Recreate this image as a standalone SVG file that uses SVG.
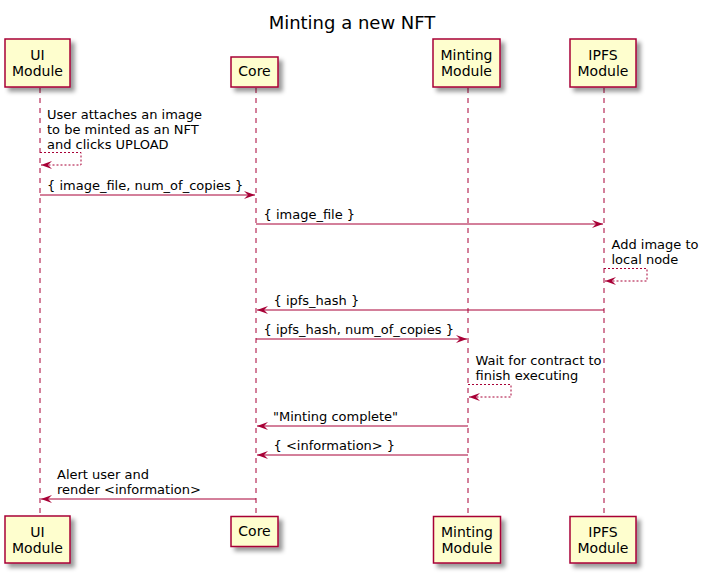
<svg xmlns="http://www.w3.org/2000/svg" width="703" height="576" viewBox="0 0 703 576">
<defs>
<filter id="sh" x="-1" y="-1" width="300%" height="300%">
<feGaussianBlur result="blur" stdDeviation="2"/>
<feColorMatrix type="matrix" in="blur" result="cm" values="0 0 0 0 0 0 0 0 0 0 0 0 0 0 0 0 0 0 0.4 0"/>
<feOffset result="off" dx="4" dy="4" in="cm"/>
<feBlend in="SourceGraphic" in2="off" mode="normal"/>
</filter>
<marker id="ah" viewBox="0 0 11 8" refX="11" refY="4" markerWidth="11" markerHeight="8" markerUnits="userSpaceOnUse" orient="auto">
<polygon points="0,0 11,4 0,8 4,4" fill="#A80036"/>
</marker>
</defs>
<style>
.box{fill:#FEFECE;stroke:#A80036;stroke-width:1.5}
.life{stroke:#A80036;stroke-width:1;stroke-dasharray:5,5;fill:none}
.msg{stroke:#A80036;stroke-width:1;fill:none}
.ret{stroke:#A80036;stroke-width:1;fill:none;stroke-dasharray:2,2}
.pt{font-family:"DejaVu Sans",sans-serif;font-size:14px;fill:#000000;text-anchor:middle}
.mt{font-family:"DejaVu Sans",sans-serif;font-size:13px;fill:#000000}
.title{font-family:"DejaVu Sans",sans-serif;font-size:18px;fill:#000000;text-anchor:middle}
</style>
<rect width="703" height="576" fill="#FFFFFF"/>
<text class="title" x="352" y="29">Minting a new NFT</text>
<g id="lifelines">
<line class="life" x1="40" y1="88" x2="40" y2="516"/>
<line class="life" x1="256" y1="88" x2="256" y2="516"/>
<line class="life" x1="468" y1="88" x2="468" y2="516"/>
<line class="life" x1="604" y1="88" x2="604" y2="516"/>
</g>
<g id="ui">
<rect class="box" x="5" y="39" width="65" height="48" filter="url(#sh)"/>
<text class="pt" x="37.5" y="60">UI</text>
<text class="pt" x="37.5" y="76">Module</text>
<rect class="box" x="5" y="516" width="65" height="47" filter="url(#sh)"/>
<text class="pt" x="37.5" y="537">UI</text>
<text class="pt" x="37.5" y="553">Module</text>
</g>
<g id="core">
<rect class="box" x="231" y="57" width="47" height="30" filter="url(#sh)"/>
<text class="pt" x="254.5" y="76">Core</text>
<rect class="box" x="231" y="516.5" width="47" height="30" filter="url(#sh)"/>
<text class="pt" x="254.5" y="536">Core</text>
</g>
<g id="minting">
<rect class="box" x="433" y="39" width="67" height="48" filter="url(#sh)"/>
<text class="pt" x="466.5" y="60">Minting</text>
<text class="pt" x="466.5" y="76">Module</text>
<rect class="box" x="433.5" y="516.5" width="67" height="46.5" filter="url(#sh)"/>
<text class="pt" x="467" y="537">Minting</text>
<text class="pt" x="467" y="553">Module</text>
</g>
<g id="ipfs">
<rect class="box" x="570" y="39" width="66" height="48" filter="url(#sh)"/>
<text class="pt" x="603" y="60">IPFS</text>
<text class="pt" x="603" y="76">Module</text>
<rect class="box" x="570" y="516.5" width="66" height="46.5" filter="url(#sh)"/>
<text class="pt" x="603" y="537">IPFS</text>
<text class="pt" x="603" y="553">Module</text>
</g>
<g id="connectors">
<polyline class="ret" points="40,152.5 81,152.5 81,165 41,165" marker-end="url(#ah)"/>
<line class="msg" x1="40" y1="195" x2="255" y2="195" marker-end="url(#ah)"/>
<line class="msg" x1="256" y1="224" x2="603" y2="224" marker-end="url(#ah)"/>
<polyline class="ret" points="604,268.5 647,268.5 647,281 605,281" marker-end="url(#ah)"/>
<line class="msg" x1="604" y1="310" x2="257" y2="310" marker-end="url(#ah)"/>
<line class="msg" x1="256" y1="339" x2="467" y2="339" marker-end="url(#ah)"/>
<polyline class="ret" points="468,384.5 511,384.5 511,397 469,397" marker-end="url(#ah)"/>
<line class="msg" x1="468" y1="426" x2="257" y2="426" marker-end="url(#ah)"/>
<line class="msg" x1="468" y1="455" x2="257" y2="455" marker-end="url(#ah)"/>
<line class="msg" x1="256" y1="499" x2="41" y2="499" marker-end="url(#ah)"/>
</g>
<g id="labels">
<text class="mt" x="47" y="119">User attaches an image</text>
<text class="mt" x="47" y="134">to be minted as an NFT</text>
<text class="mt" x="47" y="149">and clicks UPLOAD</text>
<text class="mt" x="47" y="190">{ image_file, num_of_copies }</text>
<text class="mt" x="263.5" y="219">{ image_file }</text>
<text class="mt" x="611.5" y="249">Add image to</text>
<text class="mt" x="611.5" y="264">local node</text>
<text class="mt" x="273.5" y="305">{ ipfs_hash }</text>
<text class="mt" x="263.5" y="334">{ ipfs_hash, num_of_copies }</text>
<text class="mt" x="475.5" y="365">Wait for contract to</text>
<text class="mt" x="475.5" y="380">finish executing</text>
<text class="mt" x="273" y="421">"Minting complete"</text>
<text class="mt" x="273.5" y="450">{ &lt;information&gt; }</text>
<text class="mt" x="57" y="479">Alert user and</text>
<text class="mt" x="57" y="494">render &lt;information&gt;</text>
</g>
</svg>
